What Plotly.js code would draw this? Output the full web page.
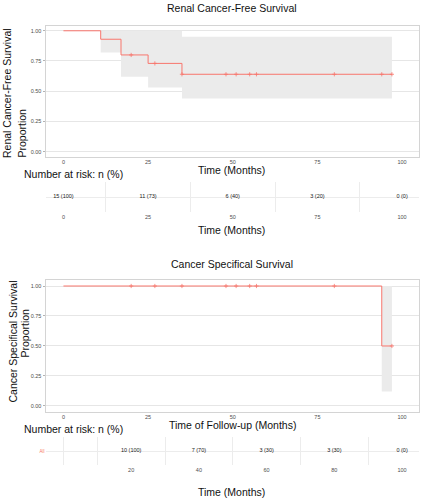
<!DOCTYPE html>
<html>
<head>
<meta charset="utf-8">
<script src="https://cdn.plot.ly/plotly-3.0.1.min.js"></script>
<style>html,body{margin:0;padding:0;background:#fff}#chart{width:421px;height:500px}</style>
</head>
<body>
<div id="chart"></div>
<script>
// ---- Renal cancer-free survival ----
const rcfsTimes = [0, 11, 17, 25, 35, 97];
const rcfsSurv = [1.00, 0.93, 0.80, 0.73, 0.64, 0.64];
const rcfsCensorTimes = [20, 27, 35, 48, 51, 55, 57, 80, 94, 97];
const rcfsCensorSurv = [0.80, 0.73, 0.64, 0.64, 0.64, 0.64, 0.64, 0.64, 0.64, 0.64];
const rcfsCiTimes = [11, 17, 25, 35, 97];
const rcfsCiLower = [0.82, 0.62, 0.53, 0.44, 0.44];
const rcfsCiUpper = [1.00, 1.00, 1.00, 0.95, 0.95];
const rcfsRiskTimes = [0, 25, 50, 75, 100];
const rcfsRiskLabels = ["15 (100)", "11 (73)", "6 (40)", "3 (20)", "0 (0)"];
const rcfsTicks = [0, 25, 50, 75, 100];

// ---- Cancer specific survival ----
const cssTimes = [0, 94, 97];
const cssSurv = [1.00, 0.50, 0.50];
const cssCensorTimes = [20, 27, 35, 48, 51, 55, 57, 80, 97];
const cssCensorSurv = [1, 1, 1, 1, 1, 1, 1, 1, 0.50];
const cssCiTimes = [94, 97];
const cssCiLower = [0.12, 0.12];
const cssCiUpper = [1.00, 1.00];
const cssRiskTimes = [20, 40, 60, 80, 100];
const cssRiskLabels = ["10 (100)", "7 (70)", "3 (30)", "3 (30)", "0 (0)"];
const cssRiskTicks = [20, 40, 60, 80, 100];
const cssKmTicks = [0, 25, 50, 75, 100];

const yTicks = [0, 0.25, 0.5, 0.75, 1];
const yTickText = ["0.00", "0.25", "0.50", "0.75", "1.00"];

const RED = "#F8766D";
const BAND = "#ebebeb";
const FONT = "Liberation Sans, Arial, sans-serif";
const W = 421, H = 500;
const px = v => v / W;
const py = v => 1 - v / H;

function kmTraces(xa, ya, times, surv, cT, cS, ciT, ciL, ciU) {
  return [
    {x: ciT, y: ciU, xaxis: xa, yaxis: ya, mode: "lines", line: {shape: "hv", width: 0, color: BAND}, hoverinfo: "skip", showlegend: false},
    {x: ciT, y: ciL, xaxis: xa, yaxis: ya, mode: "lines", fill: "tonexty", fillcolor: BAND, line: {shape: "hv", width: 0, color: BAND}, hoverinfo: "skip", showlegend: false},
    {x: times, y: surv, xaxis: xa, yaxis: ya, mode: "lines", line: {shape: "hv", width: 1, color: RED}, showlegend: false},
    {x: cT, y: cS, xaxis: xa, yaxis: ya, mode: "markers", marker: {symbol: "cross-thin", size: 3, line: {width: 0.8, color: RED}, color: RED}, showlegend: false}
  ];
}

const data = [
  ...kmTraces("x", "y", rcfsTimes, rcfsSurv, rcfsCensorTimes, rcfsCensorSurv, rcfsCiTimes, rcfsCiLower, rcfsCiUpper),
  {x: rcfsRiskTimes, y: rcfsRiskTimes.map(() => 0.5), text: rcfsRiskLabels, xaxis: "x2", yaxis: "y2", mode: "text",
   textposition: "middle center", textfont: {size: 5.5, color: "#1a1a1a", family: FONT}, showlegend: false},
  ...kmTraces("x3", "y3", cssTimes, cssSurv, cssCensorTimes, cssCensorSurv, cssCiTimes, cssCiLower, cssCiUpper),
  {x: cssRiskTimes, y: cssRiskTimes.map(() => 0.5), text: cssRiskLabels, xaxis: "x4", yaxis: "y4", mode: "text",
   textposition: "middle center", textfont: {size: 5.5, color: "#1a1a1a", family: FONT}, showlegend: false}
];

const XR = [-5.3, 105];
const xDom = [px(45.5), px(419)];
const tickFont = {size: 5.5, color: "#4d4d4d", family: FONT};
const kmX = (anchor, ticks) => ({domain: xDom, range: XR, anchor: anchor, tickvals: ticks, ticktext: ticks.map(String),
  showgrid: false, zeroline: false, showline: true, mirror: true, linecolor: "#d4d4d4", linewidth: 1,
  ticks: "", tickfont: tickFont});
const kmY = (anchor, dom, rng) => ({domain: dom, range: rng, anchor: anchor, tickvals: yTicks, ticktext: yTickText,
  showgrid: true, gridcolor: "#e6e6e6", gridwidth: 1, zeroline: false, showline: true, mirror: true, linecolor: "#d4d4d4", linewidth: 1,
  ticks: "outside", ticklen: 2, tickcolor: "#b3b3b3", tickfont: tickFont});
const tabX = (anchor, ticks, minorVals) => ({domain: xDom, range: XR, anchor: anchor, tickvals: ticks, ticktext: ticks.map(String),
  showgrid: false, zeroline: false, showline: false, ticks: "", tickfont: tickFont,
  minor: {tickvals: minorVals, showgrid: true, gridcolor: "#ececec", gridwidth: 1, ticks: ""}});
const tabY = (anchor, dom, label) => ({domain: dom, range: [0, 1], anchor: anchor, tickvals: [0.5], ticktext: [label],
  showgrid: true, gridcolor: "#ececec", zeroline: false, showline: false, ticks: "", showticklabels: label !== "",
  tickfont: {size: 4.5, color: RED, family: FONT}});

const ann = (text, x, y, size, opts = {}) => Object.assign({text: text, x: x, y: y, xref: "paper", yref: "paper",
  showarrow: false, xanchor: "center", yanchor: "middle", font: {size: size, color: "#111", family: FONT}}, opts);

const layout = {
  width: W, height: H, margin: {l: 0, r: 0, t: 0, b: 0}, paper_bgcolor: "#fff", plot_bgcolor: "#fff",
  font: {family: FONT}, showlegend: false,
  xaxis: kmX("y", rcfsTicks),
  yaxis: kmY("x", [py(156.7), py(25.7)], [-0.042, 1.042]),
  xaxis2: tabX("y2", rcfsRiskTimes, [12.5, 37.5, 62.5, 87.5]),
  yaxis2: tabY("x2", [py(212), py(182)], ""),
  xaxis3: kmX("y3", cssKmTicks),
  yaxis3: kmY("x3", [py(411.7), py(280)], [-0.048, 1.05]),
  xaxis4: tabX("y4", cssRiskTicks, [0, 10, 30, 50, 70, 90]),
  yaxis4: tabY("x4", [py(465), py(437)], "All"),
  annotations: [
    ann("Renal Cancer-Free Survival", px(232), py(8), 10.5),
    ann("Renal Cancer-Free Survival", px(7), py(93), 10.5, {textangle: -90}),
    ann("Proportion", px(21.5), py(133), 10.5, {textangle: -90}),
    ann("Time (Months)", px(232), py(170.5), 10.5),
    ann("Number at risk: n (%)", px(22), py(174), 10.5, {xanchor: "left"}),
    ann("Time (Months)", px(232), py(229.5), 10.5),
    ann("Cancer Specifical Survival", px(232), py(264), 10.5),
    ann("Cancer Specifical Survival", px(12), py(341.5), 10.5, {textangle: -90}),
    ann("Proportion", px(24), py(333.5), 10.5, {textangle: -90}),
    ann("Time of Follow-up (Months)", px(232.5), py(425), 10.5),
    ann("Number at risk: n (%)", px(22), py(428.5), 10.5, {xanchor: "left"}),
    ann("Time (Months)", px(232), py(491.5), 10.5)
  ]
};

Plotly.newPlot("chart", data, layout, {staticPlot: true, displayModeBar: false});
</script>
</body>
</html>
